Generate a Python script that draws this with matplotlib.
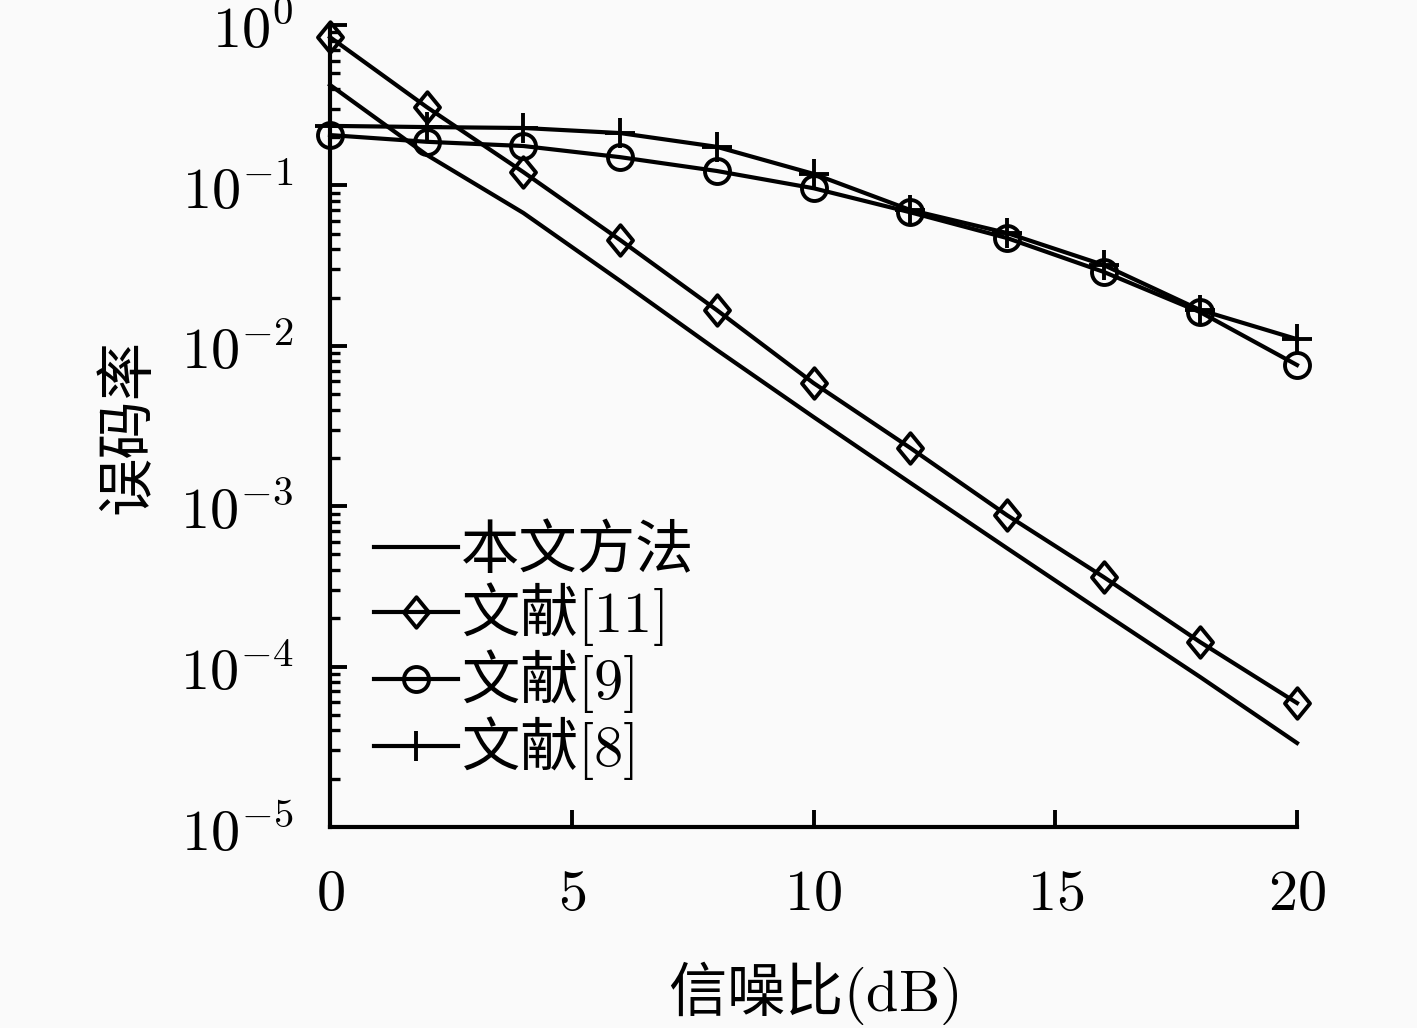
import math
import matplotlib
matplotlib.use("Agg")
import matplotlib.pyplot as plt
from matplotlib.ticker import FixedLocator, FuncFormatter, LogLocator, NullFormatter
from matplotlib.path import Path

plt.rcParams['font.family'] = ['Noto Sans CJK SC', 'DejaVu Sans']
plt.rcParams['mathtext.fontset'] = 'cm'
plt.rcParams['mathtext.default'] = 'rm'

snr = [0, 2, 4, 6, 8, 10, 12, 14, 16, 18, 20]
ber_ours = [0.423, 0.155, 0.0673, 0.0254, 0.00942, 0.00360, 0.00140, 5.48e-4, 2.16e-4, 8.6e-5, 3.34e-5]
ber_ref11 = [0.84, 0.308, 0.121, 0.0457, 0.0167, 0.00586, 0.00231, 8.8e-4, 3.62e-4, 1.42e-4, 5.93e-5]
ber_ref9 = [0.206, 0.187, 0.176, 0.150, 0.123, 0.096, 0.068, 0.047, 0.0289, 0.0162, 0.00759]
ber_ref8 = [0.235, 0.231, 0.228, 0.212, 0.174, 0.118, 0.0703, 0.0505, 0.0319, 0.0167, 0.0110]

labels = ['本文方法', '文献$[11]$', '文献$[9]$', '文献$[8]$']
xticks = [0, 5, 10, 15, 20]
yticks = [1e-5, 1e-4, 1e-3, 1e-2, 1e-1, 1e0]

W, H = 1417, 1028
fig = plt.figure(figsize=(W / 100, H / 100), dpi=100, facecolor='#fafafa')
ax = fig.add_axes([330 / W, 1 - 827 / H, (1297 - 330) / W, (827 - 25) / H])
ax.set_facecolor('#fafafa')

diamond = Path([(0, 1), (0.82, 0), (0, -1), (-0.82, 0), (0, 1)],
               [Path.MOVETO, Path.LINETO, Path.LINETO, Path.LINETO, Path.CLOSEPOLY])

lw = 3.0
ax.plot(snr, ber_ours, color='black', lw=lw, label=labels[0], clip_on=False)
ax.plot(snr, ber_ref11, color='black', lw=lw, marker=diamond, ms=22,
        mfc='none', mec='black', mew=2.8, label=labels[1], clip_on=False)
ax.plot(snr, ber_ref9, color='black', lw=lw, marker='o', ms=18,
        mfc='none', mec='black', mew=2.8, label=labels[2], clip_on=False)
ax.plot(snr, ber_ref8, color='black', lw=lw, marker='+', ms=21,
        mec='black', mew=2.8, label=labels[3], clip_on=False)

ax.set_yscale('log')
ax.set_xlim(0, 20)
ax.set_ylim(1e-5, 1e0)

for s in ['top', 'right']:
    ax.spines[s].set_visible(False)
for s in ['left', 'bottom']:
    ax.spines[s].set_linewidth(3.0)

ax.xaxis.set_major_locator(FixedLocator(xticks))
ax.xaxis.set_major_formatter(FuncFormatter(lambda v, p: '$%d$' % v))
ax.yaxis.set_major_locator(FixedLocator(yticks))
ax.yaxis.set_major_formatter(FuncFormatter(lambda v, p: '$10^{%d}$' % round(math.log10(v))))
ax.yaxis.set_minor_locator(LogLocator(base=10, subs=range(2, 10), numticks=20))
ax.yaxis.set_minor_formatter(NullFormatter())

ax.tick_params(axis='both', which='major', direction='in', length=12, width=2.8, labelsize=42)
ax.tick_params(axis='y', which='minor', direction='in', length=7, width=2.4)
ax.tick_params(axis='x', which='major', pad=26)
ax.tick_params(axis='y', which='major', pad=26)

ax.set_xlabel('信噪比$\\mathrm{(dB)}$', fontsize=42)
ax.xaxis.set_label_coords(0.5, -(960 - 827) / 802)
ax.set_ylabel('误码率', fontsize=42)
ax.yaxis.set_label_coords(-(330 - 158) / 967, 0.5)

leg = ax.legend(loc='lower left', bbox_to_anchor=(0.045, 0.056), frameon=False,
                fontsize=42, handlelength=1.45, handletextpad=0.05,
                labelspacing=-0.02, borderpad=0, borderaxespad=0)

fig.savefig('out.png', dpi=100, facecolor=fig.get_facecolor())
